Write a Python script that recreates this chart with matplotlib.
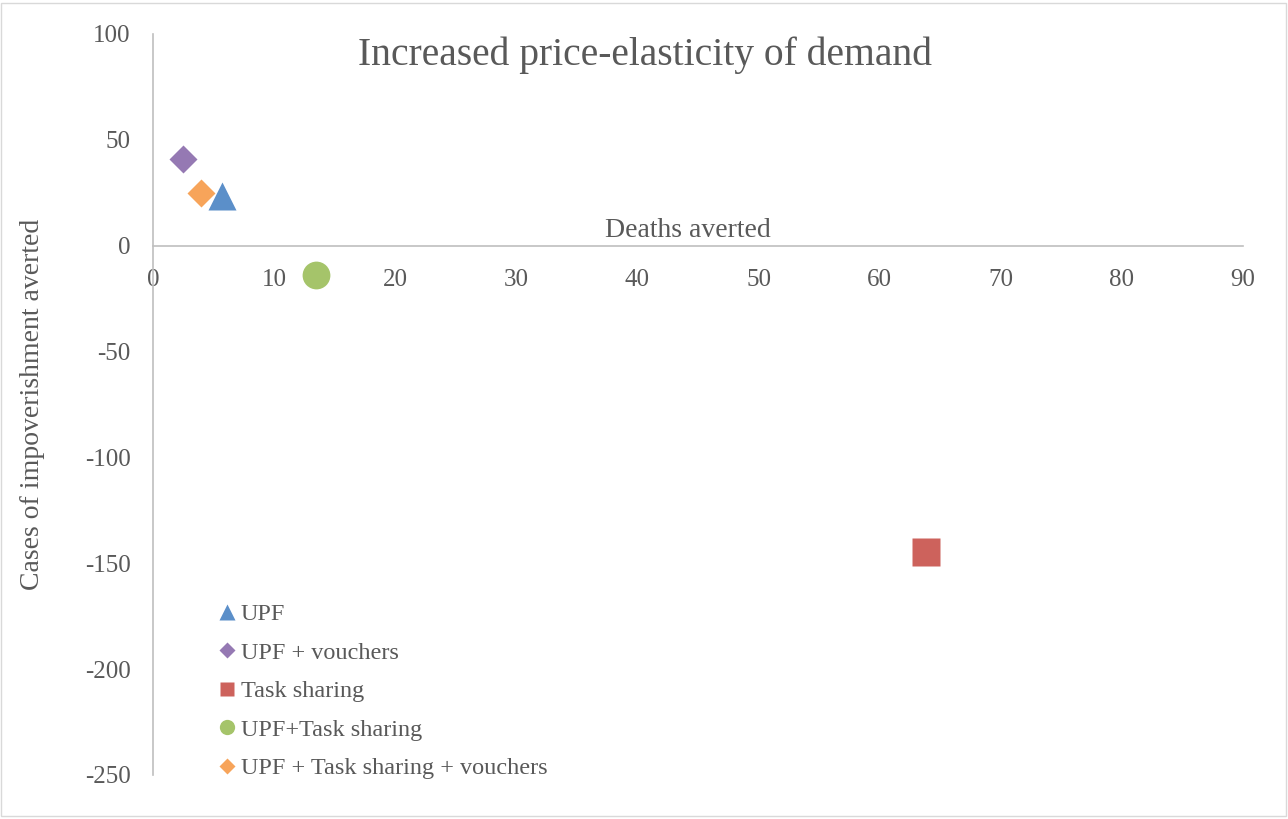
import matplotlib
matplotlib.use("Agg")
import matplotlib.pyplot as plt
from matplotlib.patches import Rectangle

plt.rcParams["axes.unicode_minus"] = False

series = ["UPF", "UPF + vouchers", "Task sharing", "UPF+Task sharing", "UPF + Task sharing + vouchers"]
deaths_averted = [5.7, 2.45, 63.8, 13.45, 3.95]
impoverishment_averted = [23.3, 41.0, -144.5, -13.8, 25.0]
markers = ["^", "D", "s", "o", "D"]
colors = ["#5b8fc9", "#9579b3", "#cd625c", "#a5c46a", "#f7a45a"]
x_ticks = [0, 10, 20, 30, 40, 50, 60, 70, 80, 90]
y_ticks = [100, 50, 0, -50, -100, -150, -200, -250]

FONT = ["Liberation Serif", "DejaVu Serif"]
TXT = "#595959"
AX = "#bfbfbf"

fig = plt.figure(figsize=(12.88, 8.19), dpi=100)
ax = fig.add_axes([153/1288, 1-775/819, (1243-153)/1288, (775-34)/819])

sizes = {"^": 20, "D": 14.5, "s": 19.5, "o": 20}
for name, xv, yv, m, c in zip(series, deaths_averted, impoverishment_averted, markers, colors):
    ax.plot([xv], [yv], linestyle="none", marker=m, markersize=sizes[m],
            color=c, markeredgecolor="none", label=name, clip_on=False)

ax.set_xlim(0, 90)
ax.set_ylim(-250, 100)
ax.set_xticks(x_ticks)
ax.set_yticks(y_ticks)
ax.spines["top"].set_visible(False)
ax.spines["right"].set_visible(False)
ax.spines["left"].set_position(("data", 0))
ax.spines["bottom"].set_position(("data", 0))
for s in ["left", "bottom"]:
    ax.spines[s].set_color(AX)
    ax.spines[s].set_linewidth(1.2)
ax.tick_params(length=0, labelcolor=TXT, labelsize=18)
for lab in ax.get_xticklabels() + ax.get_yticklabels():
    lab.set_fontfamily(FONT)
ax.tick_params(axis="y", pad=16)
ax.tick_params(axis="x", pad=16.5)

fig.text(33/1288, 1-404/819, "Cases of impoverishment averted", fontsize=20, color=TXT, family=FONT,
         rotation=90, ha="center", va="center")
ax.text(44.2, 4.1, "Deaths averted", fontsize=20, color=TXT, family=FONT, ha="center", va="baseline")
fig.text(645/1288, 1-55/819, "Increased price-elasticity of demand", fontsize=28.5, color=TXT,
         family=FONT, ha="center", va="center")

leg = ax.legend(loc="upper left", bbox_to_anchor=(220/1288, 1-603/819), bbox_transform=fig.transFigure,
                frameon=False, prop={"family": FONT, "size": 17.5}, labelcolor=TXT,
                handlelength=0.6, handletextpad=0.25, labelspacing=0.68, markerscale=0.55,
                borderaxespad=0, borderpad=0)

fig.patches.append(Rectangle((1/1288, 1-816/819), 1285/1288, 813/819, transform=fig.transFigure,
                             fill=False, edgecolor="#d9d9d9", linewidth=1))

fig.savefig("out.png", dpi=100, facecolor="white")
